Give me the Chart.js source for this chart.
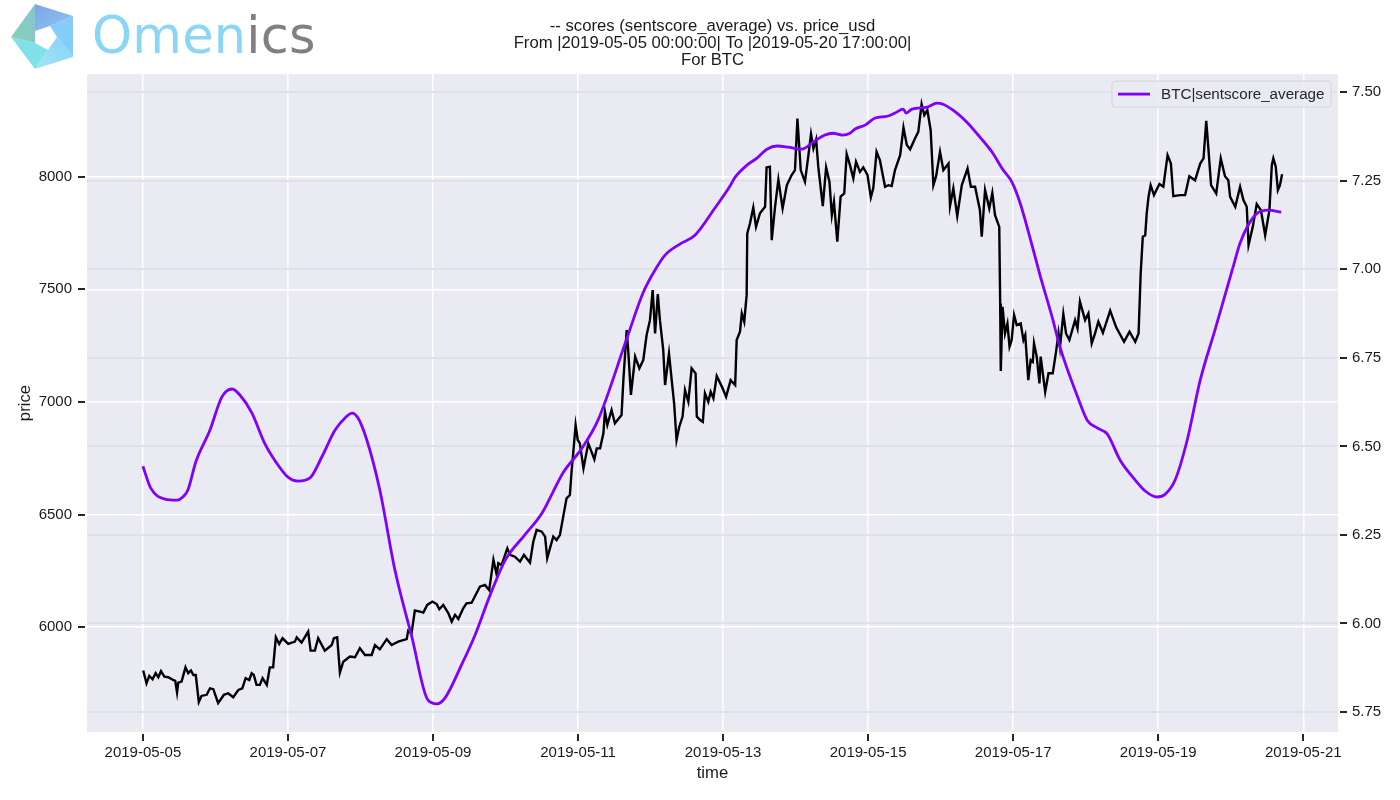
<!DOCTYPE html>
<html>
<head>
<meta charset="utf-8">
<title>sentscore_average vs. price_usd</title>
<script src="https://cdn.jsdelivr.net/npm/chart.js@4"></script>
<style>
  html, body { margin: 0; padding: 0; background: #fff; }
  #wrap { position: relative; width: 1400px; height: 800px; overflow: hidden; }
  #logo { position: absolute; left: 0; top: 0; }
  #brand { position: absolute; left: 92px; top: 6px; font: 400 51px/60px "DejaVu Sans", sans-serif; letter-spacing: 0.2px; color: #8ad6f6; }
  #brand span { color: #808080; }
</style>
</head>
<body>
<div id="wrap">
  <canvas id="chart" width="1400" height="800"></canvas>
  <svg id="logo" width="90" height="74">
    <defs>
      <linearGradient id="gTop" x1="0" y1="0" x2="1" y2="1"><stop offset="0" stop-color="#7ea6e4"/><stop offset="1" stop-color="#8cc4f4"/></linearGradient>
      <linearGradient id="gLow" x1="1" y1="0" x2="0" y2="1"><stop offset="0" stop-color="#84d2f6"/><stop offset="1" stop-color="#a6e4f6"/></linearGradient>
      <linearGradient id="gLeft" x1="1" y1="0" x2="0" y2="1"><stop offset="0" stop-color="#8ac4d0"/><stop offset="1" stop-color="#84cfb8"/></linearGradient>
    </defs>
    <polygon points="35,4 73,16 50,26 35,31" fill="url(#gTop)"/>
    <polygon points="73,16 73,57 57,37 50,26" fill="#85cdf9"/>
    <polygon points="73,57 35,69 48,50 57,37" fill="url(#gLow)"/>
    <polygon points="11,37 35,69 48,50 35,43" fill="#80e2e8"/>
    <polygon points="35,4 11,37 35,43 35,31" fill="url(#gLeft)"/>
  </svg>
  <div id="brand">Omen<span>ics</span></div>
</div>
<script>
const titleLines = [
  "-- scores (sentscore_average) vs. price_usd",
  "From |2019-05-05 00:00:00| To |2019-05-20 17:00:00|",
  "For BTC",
];
const seriesLabel = "BTC|sentscore_average";

// x values are hours since 2019-05-05 00:00
const xTickHours = [0, 48, 96, 144, 192, 240, 288, 336, 384];
const xTickLabels = ["2019-05-05", "2019-05-07", "2019-05-09", "2019-05-11", "2019-05-13",
  "2019-05-15", "2019-05-17", "2019-05-19", "2019-05-21"];
const priceTicks = [6000, 6500, 7000, 7500, 8000];
const scoreTicks = [5.75, 6.0, 6.25, 6.5, 6.75, 7.0, 7.25, 7.5];

const priceHours = [
  0.1, 1.2, 2.1, 3.2, 4.2, 5.1, 6.0, 7.1, 8.4, 10.0, 10.7, 11.3, 11.7, 12.8, 14.1, 15.0, 15.9, 16.7, 17.5, 18.5,
  19.4, 21.1, 22.2, 23.3, 24.9, 26.8, 28.2, 29.9, 31.6, 32.9, 34.0, 35.2, 36.0, 36.7, 37.6, 38.7, 39.6, 41.0, 42.0, 43.1,
  44.0, 45.1, 46.2, 48.1, 50.3, 50.9, 52.5, 54.7, 55.5, 56.9, 58.0, 60.2, 62.5, 63.2, 64.3, 65.2, 66.3, 68.5, 70.2, 71.8,
  73.5, 75.7, 76.8, 78.4, 80.7, 82.3, 84.5, 87.3, 87.8, 88.9, 90.0, 91.7, 92.8, 94.1, 95.8, 97.2, 98.1, 99.4, 101.1, 102.2,
  103.3, 104.4, 106.0, 107.1, 108.8, 110.4, 111.5, 113.2, 114.6, 116.0, 117.1, 117.6, 118.7, 120.6, 121.5, 123.1, 124.8, 126.1, 128.1, 129.2,
  130.3, 132.0, 133.1, 133.8, 134.7, 135.8, 136.9, 138.0, 139.1, 140.2, 141.3, 141.9, 142.4, 143.2, 143.9, 144.6, 145.8, 147.4, 149.4, 150.2,
  151.3, 152.4, 152.9, 153.7, 155.1, 156.2, 158.4, 159.0, 160.1, 160.6, 161.5, 162.9, 164.3, 165.6, 166.7, 167.8, 168.7, 169.5, 170.4, 171.1,
  172.2, 172.8, 174.1, 175.0, 175.8, 176.6, 177.5, 178.6, 179.4, 180.5, 181.6, 182.9, 183.3, 184.4, 185.3, 186.0, 187.1, 187.9, 188.8, 189.9,
  191.6, 193.0, 194.5, 196.0, 196.5, 197.6, 198.2, 199.0, 199.8, 200.0, 200.9, 202.0, 202.9, 204.2, 205.9, 206.4, 207.5, 208.1, 209.2, 210.3,
  211.7, 213.1, 214.7, 215.8, 216.6, 217.7, 219.1, 220.2, 221.1, 221.9, 222.8, 223.5, 225.0, 226.1, 227.2, 228.0, 228.7, 229.8, 230.9, 232.1,
  232.9, 234.0, 235.1, 236.0, 237.3, 238.4, 239.8, 240.9, 241.7, 242.8, 243.9, 245.6, 246.7, 247.8, 248.9, 250.6, 251.7, 252.8, 253.9, 255.5,
  256.6, 257.7, 258.6, 259.6, 260.7, 261.6, 262.5, 263.8, 264.9, 266.6, 267.1, 268.2, 269.5, 271.0, 272.9, 274.0, 275.4, 277.0, 277.6, 278.7,
  280.1, 281.1, 282.0, 283.4, 283.7, 283.9, 284.5, 285.3, 286.1, 286.8, 287.5, 288.3, 289.2, 290.5, 291.4, 292.0, 293.0, 293.8, 294.5, 294.9,
  295.8, 296.7, 297.1, 298.6, 299.7, 301.1, 302.2, 303.0, 303.5, 304.6, 305.5, 306.6, 308.5, 309.3, 310.1, 311.8, 312.9, 314.0, 315.1, 316.2,
  317.7, 320.1, 322.1, 324.7, 326.5, 328.4, 329.5, 330.2, 330.9, 331.7, 332.2, 332.8, 333.5, 334.6, 336.4, 337.7, 339.1, 340.2, 341.0, 343.2,
  344.9, 346.3, 348.2, 349.9, 351.0, 351.9, 352.6, 353.5, 355.2, 356.7, 358.1, 359.2, 359.8, 361.5, 363.1, 364.2, 365.3, 365.9, 367.3, 368.6,
  370.0, 371.4, 372.8, 373.6, 374.1, 374.9, 375.6, 376.3, 377.0,
];
const priceUsd = [
  5808, 5751, 5784, 5769, 5796, 5778, 5805, 5781, 5778, 5766, 5762, 5710, 5754, 5759, 5822, 5796, 5808, 5788, 5788, 5668,
  5695, 5700, 5729, 5725, 5663, 5700, 5707, 5689, 5722, 5729, 5774, 5766, 5796, 5788, 5744, 5744, 5774, 5744, 5822, 5822,
  5955, 5926, 5951, 5926, 5936, 5955, 5932, 5981, 5896, 5896, 5951, 5896, 5921, 5951, 5955, 5799, 5847, 5870, 5867, 5907,
  5877, 5877, 5921, 5902, 5947, 5921, 5936, 5947, 5985, 5973, 6074, 6069, 6065, 6099, 6114, 6103, 6080, 6099, 6062, 6025,
  6055, 6037, 6084, 6106, 6109, 6151, 6180, 6188, 6165, 6299, 6232, 6284, 6276, 6350, 6321, 6313, 6291, 6321, 6287, 6380,
  6432, 6424, 6402, 6306, 6350, 6402, 6387, 6409, 6491, 6572, 6587, 6698, 6772, 6897, 6831, 6816, 6705, 6816, 6745, 6794,
  6794, 6861, 6957, 6898, 6964, 6905, 6942, 7097, 7319, 7230, 7031, 7201, 7149, 7186, 7297, 7363, 7496, 7304, 7479, 7363,
  7230, 7075, 7215, 7097, 6994, 6831, 6890, 6935, 7053, 7001, 7149, 7127, 6935, 6920, 6912, 7038, 7001, 7045, 7016, 7115,
  7068, 7023, 7097, 7075, 7275, 7312, 7393, 7356, 7474, 7748, 7792, 7863, 7777, 7837, 7866, 8041, 8044, 7718, 7866, 7987,
  7859, 7962, 8007, 8029, 8258, 8029, 7977, 8091, 8189, 8125, 8165, 8044, 7869, 8041, 7977, 7829, 7888, 7711, 7911, 7925,
  8100, 8051, 7992, 8066, 8021, 8041, 8007, 7908, 7948, 8110, 8073, 7955, 7962, 7958, 8029, 8095, 8218, 8140, 8121, 8169,
  8199, 8322, 8273, 8295, 8206, 7962, 8002, 8110, 8029, 8058, 7869, 7948, 7825, 7962, 8036, 7955, 7955, 7851, 7733, 7940,
  7859, 7928, 7829, 7777, 7437, 7137, 7422, 7304, 7348, 7245, 7275, 7386, 7341, 7348, 7275, 7297, 7097, 7186, 7178, 7260,
  7201, 7082, 7201, 7045, 7127, 7127, 7223, 7304, 7245, 7390, 7304, 7275, 7363, 7326, 7445, 7363, 7393, 7260, 7304, 7356,
  7307, 7405, 7331, 7267, 7312, 7267, 7304, 7570, 7733, 7740, 7837, 7911, 7962, 7918, 7967, 7955, 8095, 8058, 7913, 7918,
  7918, 8002, 7984, 8058, 8081, 8248, 8125, 7962, 7925, 8081, 8002, 7984, 7910, 7866, 7955, 7896, 7866, 7696, 7777, 7878,
  7851, 7740, 7851, 8051, 8081, 8044, 7940, 7962, 8011,
];

const scoreHours = [
  0.0, 2.6, 7.3, 11.3, 13.2, 14.9, 17.5, 22.2, 26.1, 29.5, 32.1, 36.1, 40.1, 44.0, 48.0, 51.3, 55.3, 59.2, 63.6, 67.2, 69.2,
  71.2, 74.1, 78.4, 83.4, 89.0, 94.3, 97.3, 100.0, 105.6, 109.9, 114.9, 119.9, 126.4, 132.1, 135.7, 139.0, 145.3, 150.6, 160.2, 165.5,
  169.5, 172.8, 177.7, 182.7, 189.3, 194.3, 196.0, 199.9, 203.2, 206.5, 209.9, 213.5, 218.1, 221.8, 225.7, 228.4, 231.4, 234.0, 235.7, 239.0,
  242.3, 246.3, 248.9, 251.6, 252.6, 254.5, 259.5, 262.8, 264.8, 269.4, 272.7, 277.0, 281.0, 284.7, 287.6, 290.3, 293.6, 296.9, 300.9, 303.5,
  309.5, 312.5, 315.8, 319.1, 323.4, 328.4, 331.7, 335.6, 338.3, 341.6, 345.6, 349.9, 354.8, 360.5, 363.1, 365.8, 368.7, 372.4, 376.7,
];
const scoreValues = [
  6.444, 6.382, 6.351, 6.348, 6.357, 6.377, 6.456, 6.546, 6.639, 6.662, 6.645, 6.594, 6.512, 6.456, 6.413, 6.402, 6.411, 6.470, 6.546, 6.583, 6.594,
  6.580, 6.518, 6.377, 6.151, 5.962, 5.784, 5.773, 5.790, 5.886, 5.967, 6.080, 6.179, 6.250, 6.312, 6.371, 6.425, 6.495, 6.574, 6.806, 6.933,
  6.998, 7.040, 7.071, 7.096, 7.173, 7.235, 7.260, 7.294, 7.314, 7.339, 7.348, 7.345, 7.339, 7.359, 7.379, 7.384, 7.379, 7.384, 7.396, 7.407,
  7.427, 7.432, 7.441, 7.452, 7.441, 7.452, 7.458, 7.469, 7.466, 7.441, 7.415, 7.373, 7.331, 7.280, 7.246, 7.187, 7.088, 6.983, 6.865, 6.780,
  6.636, 6.574, 6.552, 6.535, 6.461, 6.405, 6.374, 6.357, 6.365, 6.405, 6.518, 6.687, 6.829, 6.998, 7.074, 7.125, 7.158, 7.167, 7.161,
];

const FONT = '"Liberation Sans", Arial, sans-serif';
const INK = "#1a1a1a";

// seaborn style panel behind the grid
const panelBackground = {
  id: "panelBackground",
  beforeDraw(chart) {
    const { ctx, chartArea: a } = chart;
    ctx.save();
    ctx.fillStyle = "#eaeaf2";
    ctx.fillRect(a.left, a.top, a.width, a.height);
    ctx.restore();
  },
};

// the reference ticks sit 2px off the panel, chart.js ticks can't do that
const detachedTicks = {
  id: "detachedTicks",
  afterDraw(chart) {
    const { ctx, chartArea: a, scales } = chart;
    ctx.save();
    ctx.strokeStyle = "#262626";
    ctx.lineWidth = 2;
    ctx.beginPath();
    xTickHours.forEach((v) => {
      const x = Math.round(scales.x.getPixelForValue(v));
      ctx.moveTo(x, a.bottom + 2);
      ctx.lineTo(x, a.bottom + 9);
    });
    priceTicks.forEach((v) => {
      const y = Math.round(scales.y.getPixelForValue(v));
      ctx.moveTo(a.left - 9, y);
      ctx.lineTo(a.left - 2, y);
    });
    scoreTicks.forEach((v) => {
      const y = Math.round(scales.y1.getPixelForValue(v));
      ctx.moveTo(a.right + 2, y);
      ctx.lineTo(a.right + 9, y);
    });
    ctx.stroke();
    ctx.restore();
  },
};

// matplotlib style legend box, upper right inside the panel
const boxLegend = {
  id: "boxLegend",
  afterDraw(chart) {
    const { ctx, chartArea: a } = chart;
    const x = a.right - 226, y = a.top + 7, w = 219, h = 26;
    ctx.save();
    ctx.beginPath();
    ctx.roundRect(x, y, w, h, 3);
    ctx.fillStyle = "rgba(234,234,242,0.85)";
    ctx.fill();
    ctx.strokeStyle = "#d4d4dc";
    ctx.lineWidth = 1;
    ctx.stroke();
    ctx.beginPath();
    ctx.moveTo(x + 6, y + 13);
    ctx.lineTo(x + 38, y + 13);
    ctx.strokeStyle = chart.data.datasets[1].borderColor;
    ctx.lineWidth = 2.8;
    ctx.stroke();
    ctx.fillStyle = "#262626";
    ctx.font = "15.2px " + FONT;
    ctx.textBaseline = "middle";
    ctx.fillText(chart.data.datasets[1].label, x + 49, y + 13.5);
    ctx.restore();
  },
};

new Chart(document.getElementById("chart").getContext("2d"), {
  type: "line",
  data: {
    datasets: [
      {
        label: "price_usd",
        data: priceHours.map((h, i) => ({ x: h, y: priceUsd[i] })),
        yAxisID: "y",
        borderColor: "#000000",
        borderWidth: 2.4,
        pointRadius: 0,
        tension: 0,
        order: 2,
      },
      {
        label: seriesLabel,
        data: scoreHours.map((h, i) => ({ x: h, y: scoreValues[i] })),
        yAxisID: "y1",
        borderColor: "#8000ff",
        borderWidth: 2.8,
        pointRadius: 0,
        cubicInterpolationMode: "monotone",
        order: 1,
      },
    ],
  },
  options: {
    responsive: false,
    animation: false,
    devicePixelRatio: 1,
    layout: { padding: 0 },
    plugins: {
      legend: { display: false },
      tooltip: { enabled: false },
      title: {
        display: true,
        text: titleLines,
        fullSize: false,
        color: INK,
        font: { family: FONT, size: 16.7, weight: "normal", lineHeight: 1.02 },
        padding: { top: 18, bottom: 5 },
      },
    },
    scales: {
      x: {
        type: "linear",
        min: -18.5,
        max: 395.5,
        afterBuildTicks: (s) => { s.ticks = xTickHours.map((v) => ({ value: v })); },
        afterFit: (s) => { s.height = 68; },
        ticks: {
          color: INK,
          font: { family: FONT, size: 15 },
          maxRotation: 0,
          autoSkip: false,
          padding: 12,
          callback: (v) => xTickLabels[xTickHours.indexOf(v)],
        },
        grid: { color: "#ffffff", lineWidth: 1.5, drawTicks: false },
        border: { display: false },
        title: { display: true, text: "time", color: INK, font: { family: FONT, size: 16.7 }, padding: { top: 0, bottom: 17 } },
      },
      y: {
        position: "left",
        min: 5535,
        max: 8455,
        afterBuildTicks: (s) => { s.ticks = priceTicks.map((v) => ({ value: v })); },
        afterFit: (s) => { s.width = 87; },
        ticks: { color: INK, font: { family: FONT, size: 15 }, padding: 15, callback: (v) => String(v) },
        grid: { color: "#ffffff", lineWidth: 1.5, drawTicks: false },
        border: { display: false },
        title: { display: true, text: "price", color: INK, font: { family: FONT, size: 16.7 }, padding: { top: 15, bottom: 0 } },
      },
      y1: {
        position: "right",
        min: 5.6936,
        max: 7.551,
        afterBuildTicks: (s) => { s.ticks = scoreTicks.map((v) => ({ value: v })); },
        afterFit: (s) => { s.width = 62; },
        ticks: { color: INK, font: { family: FONT, size: 15 }, padding: 14, callback: (v) => v.toFixed(2) },
        grid: { color: "#e0e0ed", lineWidth: 2, drawTicks: false },
        border: { display: false },
      },
    },
  },
  plugins: [panelBackground, detachedTicks, boxLegend],
});
</script>
</body>
</html>
